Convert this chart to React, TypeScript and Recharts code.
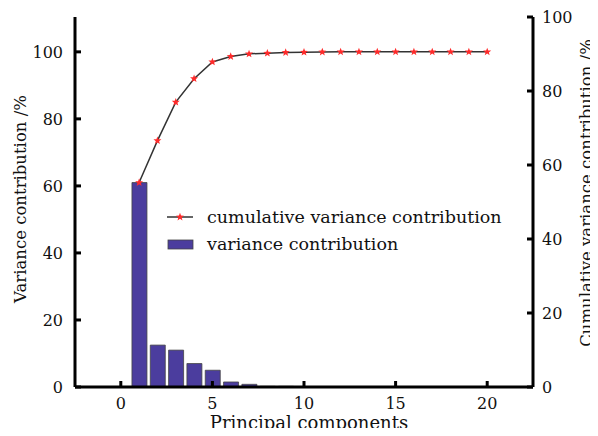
import React from "react";
import { Bar, ComposedChart, Line, XAxis, YAxis } from "recharts";

const components = [1, 2, 3, 4, 5, 6, 7, 8, 9, 10, 11, 12, 13, 14, 15, 16, 17, 18, 19, 20];
const variance = [61, 12.5, 11, 7, 5, 1.5, 0.8, 0.2, 0.2, 0.1, 0.05, 0, 0, 0, 0, 0, 0, 0, 0, 0];
const cumulative = [
  61, 73.5, 85, 92, 97, 98.6, 99.4, 99.6, 99.8, 99.9, 99.95, 100, 100, 100, 100, 100, 100, 100, 100, 100,
];
const xTicks = [0, 5, 10, 15, 20];
const leftTicks = [0, 20, 40, 60, 80, 100];
const rightTicks = [0, 20, 40, 60, 80, 100];

const FONT = "'DejaVu Serif', serif";
const BAR_FILL = "#4b3d9e";
const STAR = "#ff2a2a";

const data = components.map((c, i) => ({
  pc: c,
  variance: variance[i],
  cumulative: cumulative[i],
}));

function starPoints(cx: number, cy: number, r: number) {
  const pts: string[] = [];
  for (let i = 0; i < 10; i++) {
    const rad = i % 2 === 0 ? r : r * 0.42;
    const a = -Math.PI / 2 + (i * Math.PI) / 5;
    pts.push(`${cx + rad * Math.cos(a)},${cy + rad * Math.sin(a)}`);
  }
  return pts.join(" ");
}

function StarDot(props: any) {
  const { cx, cy, index } = props;
  if (cx == null || cy == null) return null;
  return <polygon key={`s-${index}`} points={starPoints(cx, cy, 4.2)} fill={STAR} />;
}

export default function App() {
  const tickStyle = { fontSize: 16, fill: "#111", fontFamily: FONT };
  const axisLine = { stroke: "#000", strokeWidth: 3 };
  return (
    <div
      style={{
        position: "relative",
        width: 598,
        height: 436,
        margin: -8,
        overflow: "hidden",
        background: "#fff",
      }}
    >
      <ComposedChart
        width={598}
        height={436}
        data={data}
        margin={{ top: 17, right: 0, bottom: 0, left: 0 }}
      >
        <XAxis
          dataKey="pc"
          type="number"
          domain={[-2.5, 22.5]}
          ticks={xTicks}
          allowDataOverflow
          height={49}
          tick={tickStyle}
          tickSize={-6}
          tickMargin={17}
          axisLine={axisLine}
          tickLine={axisLine}
        />
        <YAxis
          yAxisId="left"
          domain={[0, 110.4]}
          ticks={leftTicks}
          allowDataOverflow
          width={75}
          tick={tickStyle}
          tickSize={-6}
          tickMargin={18}
          axisLine={axisLine}
          tickLine={axisLine}
        />
        <YAxis
          yAxisId="right"
          orientation="right"
          domain={[0, 100]}
          ticks={rightTicks}
          allowDataOverflow
          width={65}
          tick={tickStyle}
          tickSize={-6}
          tickMargin={15}
          axisLine={axisLine}
          tickLine={axisLine}
        />
        <Bar
          yAxisId="left"
          dataKey="variance"
          barSize={15}
          fill={BAR_FILL}
          stroke="#444"
          strokeWidth={0.8}
          isAnimationActive={false}
        />
        <Line
          yAxisId="left"
          dataKey="cumulative"
          type="linear"
          stroke="#333"
          strokeWidth={1.5}
          dot={<StarDot />}
          activeDot={false}
          isAnimationActive={false}
        />
      </ComposedChart>
      <svg
        width={598}
        height={436}
        style={{ position: "absolute", left: 0, top: 0, pointerEvents: "none" }}
      >
        <g fontFamily={FONT} fill="#111">
          <line x1={167} y1={217} x2={193} y2={217} stroke="#333" strokeWidth={1.5} />
          <polygon points={starPoints(180, 217, 4.2)} fill={STAR} />
          <text x={207} y={223} fontSize={17.5}>
            cumulative variance contribution
          </text>
          <rect x={168} y={240} width={25} height={9} fill={BAR_FILL} stroke="#444" strokeWidth={0.8} />
          <text x={207} y={250} fontSize={17.5}>
            variance contribution
          </text>
          <text x={309} y={429} fontSize={18} textAnchor="middle">
            Principal components
          </text>
          <text
            x={0}
            y={0}
            fontSize={16.5}
            textAnchor="middle"
            transform="translate(26 199) rotate(-90)"
          >
            Variance contribution /%
          </text>
          <text
            x={0}
            y={0}
            fontSize={16.5}
            textAnchor="middle"
            transform="translate(592 193) rotate(-90)"
          >
            Cumulative variance contribution /%
          </text>
        </g>
      </svg>
    </div>
  );
}
